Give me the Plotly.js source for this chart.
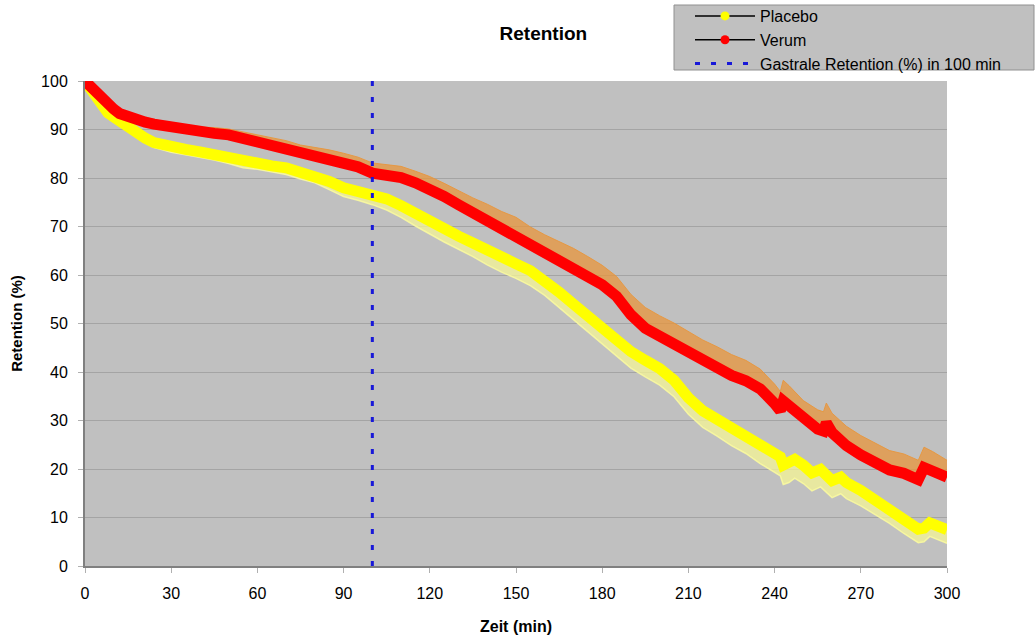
<!DOCTYPE html>
<html>
<head>
<meta charset="utf-8">
<script src="https://cdn.plot.ly/plotly-3.0.1.min.js"></script>
<style>html,body{margin:0;padding:0;background:#fff;}#chart{width:1035px;height:639px;}</style>
</head>
<body>
<div id="chart"></div>
<script>
// Verum (red)
const timeVerum = [0,2,4,6,8,10,12,15,18,21,24,27,30,35,40,45,50,55,60,65,70,75,80,85,90,95,100,105,110,115,120,125,130,135,140,145,150,155,160,165,170,175,180,185,190,195,200,205,210,215,220,225,230,235,240,242,243,245,250,255,257,258,260,265,270,275,280,285,289,290,292,295,300];
const verum = [100,98.8,97.3,96,95,94.2,93.3,92.5,92,91.5,91.1,90.8,90.3,89.7,89.4,89.2,88.9,88.2,87.6,86.9,86.2,85.2,84.6,84,83.2,82.3,81,80.6,80.1,79,77.8,76.2,74.5,72.8,71.3,69.6,68.3,66.2,64.5,63,61.5,59.8,58,55.6,51.8,49,47.3,45.8,44,42.2,40.8,39.3,38.2,36.5,33.5,32,34,33,30,28.2,27.8,29.5,27.5,24.8,22.9,21.3,19.8,19.1,18,17.8,20.3,19.6,18.3];
const verumErrUp = [0,0.3,0.5,0.6,0.7,0.8,0.8,0.9,0.9,1,1,1,1,1.1,1.1,1.2,1.2,1.3,1.3,1.4,1.5,1.6,1.7,1.8,1.9,2,2.1,2.2,2.3,2.4,2.5,2.7,2.9,3.1,3.3,3.5,3.6,3.7,3.8,3.9,4,4,4,4.1,4.2,4.3,4.3,4.3,4.4,4.4,4.4,4.3,4.2,4.1,4,4,4.3,4.2,4.1,4,4,4.1,4,4,4,4,4,4,4,4,4.2,4,3.5];

// Placebo (yellow)
const timePlacebo = [0,2,4,6,8,10,12,15,18,21,24,27,30,35,40,45,50,55,60,65,70,75,80,85,90,95,100,105,110,115,120,125,130,135,140,145,150,155,160,165,170,175,180,185,190,195,200,205,210,215,220,225,230,235,240,242,243,245,247,250,253,256,260,263,265,270,275,280,285,289,290,292,294,300];
const placebo = [100,98.2,96.2,94.6,93.4,92.6,91.7,90.5,89.2,88.2,87.3,86.8,86.3,85.9,85.4,84.8,84.2,83.3,83,82.5,82.1,81.3,80.6,79.3,78,77.4,76.7,75.7,74.3,72.6,70.9,69.4,68,66.6,65,63.6,62.3,60.9,59,56.5,54,51.5,49,46.5,44.2,42.4,40.7,38.3,34.7,32,30.2,28.3,26.8,24.8,23.2,22.5,20.8,21.2,22,20.8,19.2,19.9,17.6,18.3,17.2,15.6,13.7,11.8,9.6,8,7.6,7.8,8.9,7.5];
const placeboErrDown = [0,0.2,0.3,0.4,0.5,0.6,0.7,0.8,0.9,1,1,1,1,1.1,1.1,1.1,1.2,1.2,1.2,1.3,1.4,1.5,1.6,1.7,1.8,2,2.2,2.3,2.4,2.5,2.5,2.6,2.7,2.8,2.9,3,3,3.1,3.2,3.2,3.3,3.3,3.3,3.3,3.4,3.4,3.4,3.4,3.4,3.4,3.4,3.5,3.6,3.7,3.8,3.9,4,4,3.9,3.8,3.7,3.6,3.5,3.4,3.3,3.2,3.1,3,2.9,2.8,2.8,2.8,2.8,2.8];

// Marker line (Gastrale Retention in 100 min)
const markerTime = [100, 100];
const markerRange = [0, 100];

const verumUpper = verum.map((v, i) => v + verumErrUp[i]);
const placeboLower = placebo.map((v, i) => v - placeboErrDown[i]);

const blue = '#1818d8';
const dash = '5px,11px';

const traces = [
  {x: timeVerum, y: verum, mode: 'lines', line: {color: 'rgba(0,0,0,0)', width: 0}, showlegend: false, hoverinfo: 'skip'},
  {x: timeVerum, y: verumUpper, mode: 'lines', fill: 'tonexty', fillcolor: 'rgba(232,150,60,0.75)', line: {color: 'rgba(232,150,60,0.9)', width: 1}, showlegend: false, hoverinfo: 'skip'},
  {x: timePlacebo, y: placebo, mode: 'lines', line: {color: 'rgba(0,0,0,0)', width: 0}, showlegend: false, hoverinfo: 'skip'},
  {x: timePlacebo, y: placeboLower, mode: 'lines', fill: 'tonexty', fillcolor: 'rgba(245,245,150,0.75)', line: {color: 'rgba(250,250,160,0.9)', width: 1.5}, showlegend: false, hoverinfo: 'skip'},
  {x: timePlacebo, y: placebo, mode: 'lines', line: {color: '#ffff00', width: 11}, showlegend: false},
  {x: timeVerum, y: verum, mode: 'lines', line: {color: '#ff0000', width: 11}, showlegend: false},
  {x: markerTime, y: markerRange, mode: 'lines', line: {color: blue, width: 3, dash: dash}, showlegend: false},
  {x: [null], y: [null], mode: 'lines+markers', name: 'Placebo', line: {color: '#000', width: 1.5}, marker: {color: '#ffff00', size: 9}},
  {x: [null], y: [null], mode: 'lines+markers', name: 'Verum', line: {color: '#000', width: 1.5}, marker: {color: '#ff0000', size: 9}},
  {x: [null], y: [null], mode: 'lines', name: 'Gastrale Retention (%) in 100 min', line: {color: blue, width: 3, dash: dash}}
];

const font = {family: 'Liberation Sans, Arial, sans-serif', color: '#000'};

const layout = {
  width: 1035, height: 639,
  margin: {l: 85, r: 88, t: 81, b: 73, autoexpand: false},
  paper_bgcolor: '#ffffff',
  plot_bgcolor: '#c0c0c0',
  font: Object.assign({size: 16}, font),
  title: {text: '<b>Retention</b>', x: 0.525, xref: 'container', y: 0.948, yref: 'container', yanchor: 'middle', font: Object.assign({size: 19}, font)},
  xaxis: {
    range: [0, 300], tickvals: [0,30,60,90,120,150,180,210,240,270,300],
    showgrid: false, zeroline: false, showline: true, linecolor: '#808080', linewidth: 2,
    ticks: 'outside', ticklen: 5, tickcolor: '#b0b0b0', ticklabelstandoff: 7,
    tickfont: Object.assign({size: 16}, font),
    title: {text: '<b>Zeit (min)</b>', font: Object.assign({size: 16}, font), standoff: 20}
  },
  yaxis: {
    range: [0, 100], tickvals: [0,10,20,30,40,50,60,70,80,90,100],
    showgrid: true, gridcolor: '#a4a4a4', gridwidth: 1, zeroline: false,
    showline: true, linecolor: '#808080', linewidth: 2,
    ticks: 'outside', ticklen: 5, tickcolor: '#b0b0b0', ticklabelstandoff: 7,
    tickfont: Object.assign({size: 16}, font),
    title: {text: '<b>Retention (%)</b>', font: Object.assign({size: 15}, font), standoff: 15}
  },
  shapes: [{
    type: 'rect', xref: 'paper', yref: 'paper',
    x0: (674 - 85) / 862, x1: (1034 - 85) / 862,
    y0: (566 - 70) / 485, y1: (566 - 5) / 485,
    fillcolor: '#c0c0c0', line: {color: '#909090', width: 1}, layer: 'below'
  }],
  legend: {
    x: (690 - 85) / 862, xanchor: 'left', y: (566 + 1) / 485, yanchor: 'top',
    bgcolor: 'rgba(0,0,0,0)', borderwidth: 0,
    font: Object.assign({size: 16}, font),
    traceorder: 'normal', tracegroupgap: 0, itemwidth: 60
  },
  showlegend: true
};

Plotly.newPlot('chart', traces, layout, {displayModeBar: false, staticPlot: true});
</script>
</body>
</html>
